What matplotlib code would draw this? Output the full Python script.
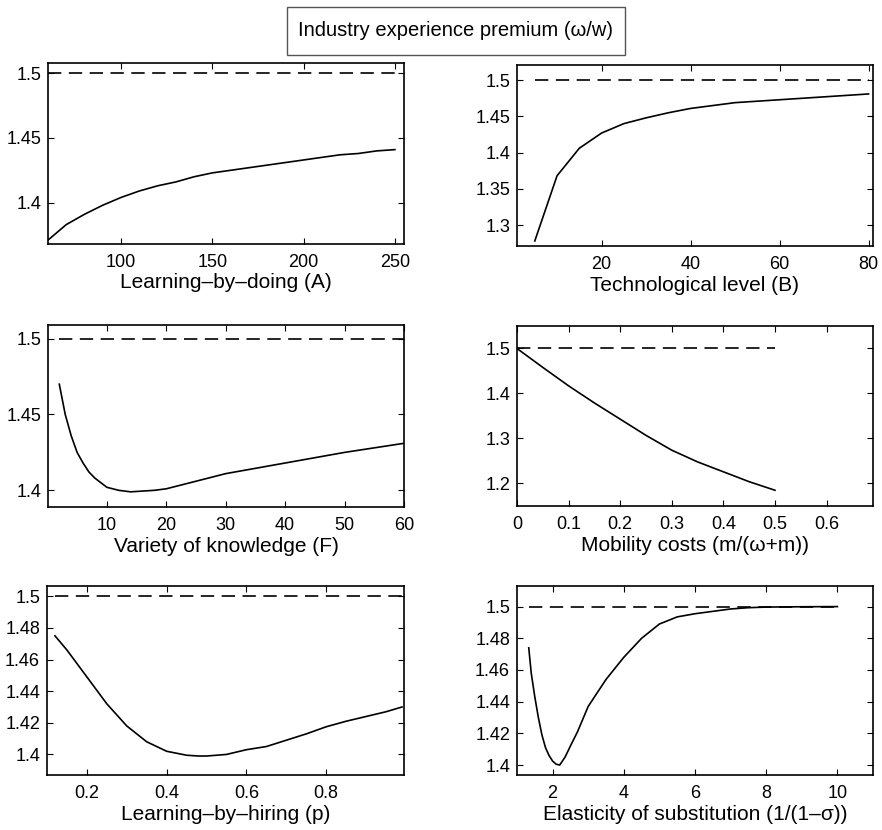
import numpy as np
import matplotlib.pyplot as plt
from matplotlib.patches import Rectangle

plt.rcParams['font.family'] = ['Liberation Sans', 'DejaVu Sans']
plt.rcParams['xtick.direction'] = 'in'
plt.rcParams['ytick.direction'] = 'in'
plt.rcParams['xtick.top'] = True
plt.rcParams['ytick.right'] = True

# Learning-by-doing (A)
A_x = [60, 70, 80, 90, 100, 110, 120, 130, 140, 150, 160, 170, 180, 190, 200,
       210, 220, 230, 240, 250]
A_y = [1.371, 1.383, 1.391, 1.398, 1.404, 1.409, 1.413, 1.416, 1.420, 1.423,
       1.425, 1.427, 1.429, 1.431, 1.433, 1.435, 1.437, 1.438, 1.440, 1.441]

# Technological level (B)
B_x = [5, 10, 15, 20, 25, 30, 35, 40, 45, 50, 60, 70, 80]
B_y = [1.278, 1.368, 1.406, 1.427, 1.440, 1.448, 1.455, 1.461, 1.465, 1.469,
       1.473, 1.477, 1.481]

# Variety of knowledge (F)
F_x = [2, 3, 4, 5, 6, 7, 8, 9, 10, 12, 14, 16, 18, 20, 25, 30, 35, 40, 45,
       50, 55, 60]
F_y = [1.470, 1.450, 1.436, 1.425, 1.418, 1.412, 1.408, 1.405, 1.402, 1.400,
       1.399, 1.3995, 1.400, 1.401, 1.406, 1.411, 1.4145, 1.418, 1.4215,
       1.425, 1.428, 1.431]

# Mobility costs
m_x = [0, 0.05, 0.1, 0.15, 0.2, 0.25, 0.3, 0.35, 0.4, 0.45, 0.5]
m_y = [1.500, 1.458, 1.417, 1.379, 1.343, 1.307, 1.274, 1.248, 1.226, 1.204,
       1.185]

# Learning-by-hiring (p)
p_x = [0.12, 0.15, 0.2, 0.25, 0.3, 0.35, 0.4, 0.45, 0.48, 0.5, 0.55, 0.6,
       0.65, 0.7, 0.75, 0.8, 0.85, 0.9, 0.95, 0.99]
p_y = [1.475, 1.466, 1.449, 1.432, 1.418, 1.408, 1.402, 1.3995, 1.399, 1.399,
       1.400, 1.403, 1.405, 1.409, 1.413, 1.4175, 1.421, 1.424, 1.427, 1.430]

# Elasticity of substitution
s_x = [1.33, 1.4, 1.5, 1.6, 1.7, 1.8, 1.9, 2.0, 2.1, 2.2, 2.35, 2.5, 2.7,
       3.0, 3.5, 4.0, 4.5, 5.0, 5.5, 6.0, 6.5, 7.0, 7.5, 8.0, 9.0, 10.0]
s_y = [1.474, 1.458, 1.443, 1.430, 1.419, 1.411, 1.406, 1.4025, 1.4005,
       1.400, 1.405, 1.412, 1.421, 1.437, 1.454, 1.468, 1.480, 1.489, 1.4935,
       1.4955, 1.497, 1.4985, 1.4993, 1.4997, 1.4999, 1.500]

panels = [
    (A_x, A_y, 'Learning\u2013by\u2013doing (A)', (60, 255), (1.368, 1.508),
     [100, 150, 200, 250], [1.4, 1.45, 1.5], (48, 63, 404, 244)),
    (B_x, B_y, 'Technological level (B)', (1, 81), (1.271, 1.521),
     [20, 40, 60, 80], [1.3, 1.35, 1.4, 1.45, 1.5], (517, 65, 873, 246)),
    (F_x, F_y, 'Variety of knowledge (F)', (0.1, 60), (1.389, 1.509),
     [10, 20, 30, 40, 50, 60], [1.4, 1.45, 1.5], (48, 325, 404, 507)),
    (m_x, m_y, 'Mobility costs (m/(\u03c9+m))', (0, 0.69), (1.15, 1.55),
     [0, 0.1, 0.2, 0.3, 0.4, 0.5, 0.6], [1.2, 1.3, 1.4, 1.5], (517, 326, 873, 506)),
    (p_x, p_y, 'Learning\u2013by\u2013hiring (p)', (0.1, 0.995), (1.387, 1.5065),
     [0.2, 0.4, 0.6, 0.8], [1.4, 1.42, 1.44, 1.46, 1.48, 1.5], (47, 586, 404, 775)),
    (s_x, s_y, 'Elasticity of substitution (1/(1\u2013\u03c3))', (1, 11), (1.3937, 1.513),
     [2, 4, 6, 8, 10], [1.4, 1.42, 1.44, 1.46, 1.48, 1.5], (517, 586, 873, 775)),
]

W, H = 882, 830
fig = plt.figure(figsize=(W / 100, H / 100), dpi=100)

for x, y, label, xl, yl, xt, yt, (l, t, r, b) in panels:
    ax = fig.add_axes([l / W, 1 - b / H, (r - l) / W, (b - t) / H])
    ax.plot(x, y, color='black', lw=1.2)
    ax.plot([x[0], x[-1]], [1.5, 1.5], color='black', lw=1.2,
            linestyle=(0, (8, 4.5)))
    ax.set_xlim(xl)
    ax.set_ylim(yl)
    ax.set_xticks(xt)
    ax.set_yticks(yt)
    ax.set_xticklabels(['%g' % v for v in xt])
    ax.set_yticklabels(['%g' % v for v in yt])
    ax.tick_params(labelsize=13, length=4, width=0.8)
    ax.tick_params(axis='x', pad=7)
    ax.tick_params(axis='y', pad=5)
    ax.set_xlabel(label, fontsize=15, labelpad=2)
    for s in ax.spines.values():
        s.set_linewidth(1.2)

# title box
fig.patches.append(Rectangle((287 / W, 1 - 55 / H), 338 / W, 48 / H,
                             transform=fig.transFigure, facecolor='white',
                             edgecolor='#555555', linewidth=1.0))
fig.text(456 / W, 1 - 31 / H, 'Industry experience premium (\u03c9/w)',
         ha='center', va='center', fontsize=14.5)

fig.savefig('out.png', dpi=100)
